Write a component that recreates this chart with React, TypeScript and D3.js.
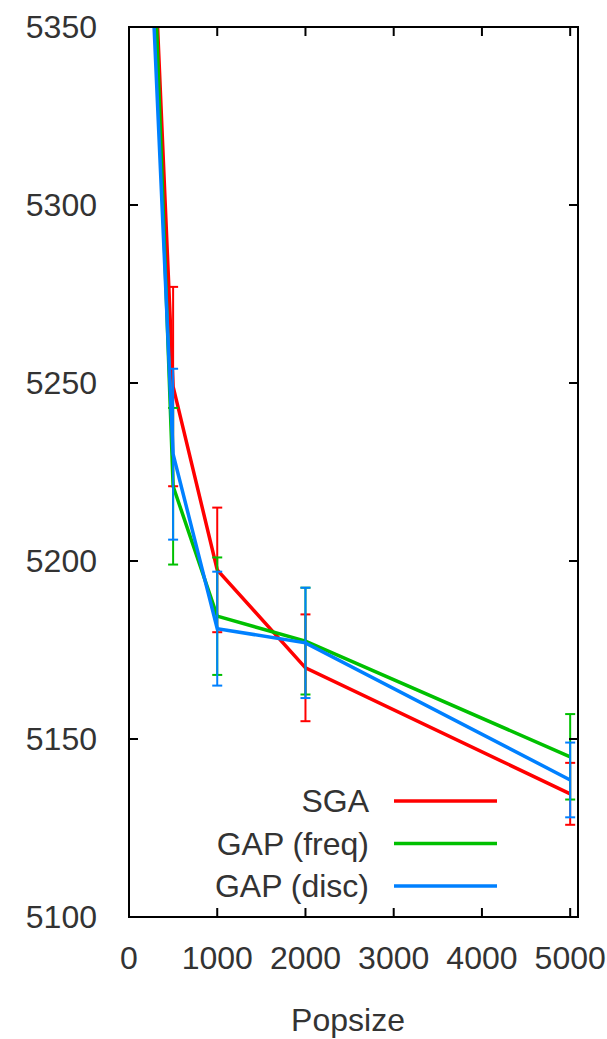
import React from 'react';
import * as d3 from 'd3';

// popsize values (first point sits above the visible range and gets clipped)
const popsize = [200, 500, 1000, 2000, 5000];

const sgaMean = [5421, 5249, 5197.5, 5170, 5134.6];
const sgaErr = [35, 28, 17.5, 15, 8.7];
const freqMean = [5428, 5221, 5184.5, 5177.5, 5145];
const freqErr = [35, 22, 16.5, 15, 12];
const discMean = [5397, 5230, 5181, 5177, 5138.5];
const discErr = [30, 24, 16, 15.5, 10.5];

const seriesNames = ['SGA', 'GAP (freq)', 'GAP (disc)'];
const seriesColors = ['#ff0000', '#00c000', '#0080ff'];

const xTicks = [0, 1000, 2000, 3000, 4000, 5000];
const yTicks = [5100, 5150, 5200, 5250, 5300, 5350];

const W = 607;
const H = 1039;
const FONT = '"Liberation Sans", Arial, sans-serif';
const TEXT = '#333';

const App = () => {
  const left = 129, right = 578, top = 27, bottom = 917;
  const x = d3.scaleLinear().domain([0, 5100]).range([left, right + 1]);
  const y = d3.scaleLinear().domain([5100, 5350]).range([bottom, top]);

  const series = [
    { name: seriesNames[0], color: seriesColors[0], mean: sgaMean, err: sgaErr },
    { name: seriesNames[1], color: seriesColors[1], mean: freqMean, err: freqErr },
    { name: seriesNames[2], color: seriesColors[2], mean: discMean, err: discErr }
  ];

  const line = d3.line<[number, number]>()
    .x(d => x(d[0]))
    .y(d => y(d[1]));

  const tickLen = 9;
  const capHalf = 5;

  return (
    <svg
      width={W}
      height={H}
      style={{ position: 'absolute', left: 0, top: 0, background: '#fff' }}
      fontFamily={FONT}
    >
      <defs>
        <clipPath id="plot-clip">
          <rect x={left} y={top} width={right - left} height={bottom - top} />
        </clipPath>
      </defs>

      {/* series: error bars then line */}
      <g clipPath="url(#plot-clip)">
        {series.map(s => (
          <g key={s.name}>
            {popsize.map((p, i) => {
              const cx = x(p);
              const y1 = y(s.mean[i] + s.err[i]);
              const y2 = y(s.mean[i] - s.err[i]);
              return (
                <g key={p} stroke={s.color} strokeWidth={2}>
                  <line x1={cx} x2={cx} y1={y1} y2={y2} />
                  <line x1={cx - capHalf} x2={cx + capHalf} y1={y1} y2={y1} />
                  <line x1={cx - capHalf} x2={cx + capHalf} y1={y2} y2={y2} />
                </g>
              );
            })}
            <path
              d={line(popsize.map((p, i) => [p, s.mean[i]] as [number, number])) || ''}
              fill="none"
              stroke={s.color}
              strokeWidth={3.5}
            />
          </g>
        ))}
      </g>

      {/* border */}
      <rect x={left} y={top} width={right - left} height={bottom - top}
        fill="none" stroke="#000" strokeWidth={2} />

      {/* y ticks, mirrored on right */}
      {yTicks.map(t => (
        <g key={t}>
          <line x1={left} x2={left + tickLen} y1={y(t)} y2={y(t)} stroke="#000" strokeWidth={2} />
          <line x1={right} x2={right - tickLen} y1={y(t)} y2={y(t)} stroke="#000" strokeWidth={2} />
          <text x={97} y={y(t)} textAnchor="end" dominantBaseline="central"
            fontSize={32} fill={TEXT}>{t}</text>
        </g>
      ))}

      {/* x ticks, mirrored on top */}
      {xTicks.map(t => (
        <g key={t}>
          <line x1={x(t)} x2={x(t)} y1={bottom} y2={bottom - tickLen} stroke="#000" strokeWidth={2} />
          <line x1={x(t)} x2={x(t)} y1={top} y2={top + tickLen} stroke="#000" strokeWidth={2} />
          <text x={x(t)} y={958} textAnchor="middle" dominantBaseline="central"
            fontSize={32} fill={TEXT}>{t}</text>
        </g>
      ))}

      <text x={348} y={1020} textAnchor="middle" dominantBaseline="central"
        fontSize={32} fill={TEXT}>Popsize</text>

      {/* legend */}
      {series.map((s, i) => {
        const ly = 801 + i * 42.5;
        return (
          <g key={s.name}>
            <text x={369} y={ly} textAnchor="end" dominantBaseline="central"
              fontSize={32} fill={TEXT}>{s.name}</text>
            <line x1={394} x2={497} y1={ly} y2={ly} stroke={s.color} strokeWidth={3.5} />
          </g>
        );
      })}
    </svg>
  );
};

export default App;
